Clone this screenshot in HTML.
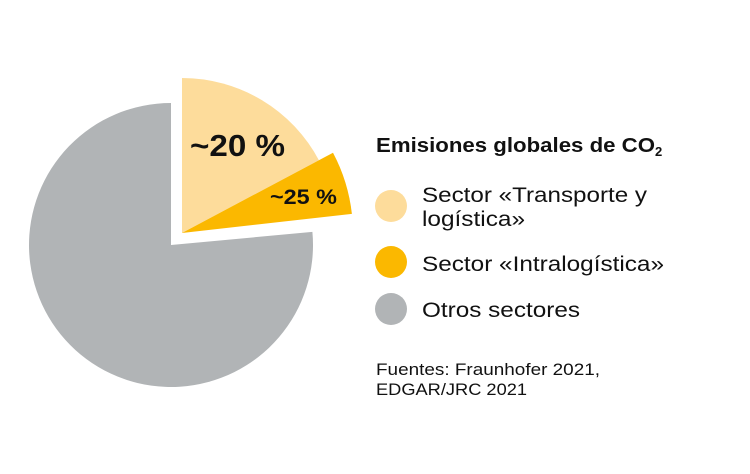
<!DOCTYPE html>
<html><head><meta charset="utf-8"><style>
html,body{margin:0;padding:0;background:#fff;}
body{width:750px;height:469px;overflow:hidden;}
svg text{font-family:"Liberation Sans",sans-serif;fill:#111;}
</style></head><body>
<svg width="750" height="469" viewBox="0 0 750 469" xmlns="http://www.w3.org/2000/svg">
<path d="M171,245 L171,103 A142,142 0 1,0 312.4,231.9 Z" fill="#b1b4b6"/>
<path d="M182,233 L182,78 A155,155 0 0,1 318.9,160.2 Z" fill="#fddc9b"/>
<path d="M182,233 L333,152.7 A171,171 0 0,1 351.9,213.9 Z" fill="#fbb800"/>
<text x="190" y="156" font-size="31" font-weight="bold" textLength="95" lengthAdjust="spacingAndGlyphs">~20 %</text>
<text x="270" y="204" font-size="21" font-weight="bold" textLength="67" lengthAdjust="spacingAndGlyphs">~25 %</text>
<text x="376" y="152" font-size="20.5" font-weight="bold"><tspan textLength="279" lengthAdjust="spacingAndGlyphs">Emisiones globales de CO</tspan><tspan font-size="13" dy="4">2</tspan></text>
<circle cx="391" cy="206" r="16" fill="#fddc9b"/>
<circle cx="391" cy="262" r="16" fill="#fbb800"/>
<circle cx="391" cy="309" r="16" fill="#b1b4b6"/>
<text x="422" y="202" font-size="21" textLength="225" lengthAdjust="spacingAndGlyphs">Sector «Transporte y</text>
<text x="422" y="226" font-size="21" textLength="103" lengthAdjust="spacingAndGlyphs">logística»</text>
<text x="422" y="271" font-size="21" textLength="242" lengthAdjust="spacingAndGlyphs">Sector «Intralogística»</text>
<text x="422" y="317" font-size="21" textLength="158" lengthAdjust="spacingAndGlyphs">Otros sectores</text>
<text x="376" y="375" font-size="17" textLength="224" lengthAdjust="spacingAndGlyphs">Fuentes: Fraunhofer 2021,</text>
<text x="376" y="395" font-size="17" textLength="151" lengthAdjust="spacingAndGlyphs">EDGAR/JRC 2021</text>
</svg>
</body></html>
